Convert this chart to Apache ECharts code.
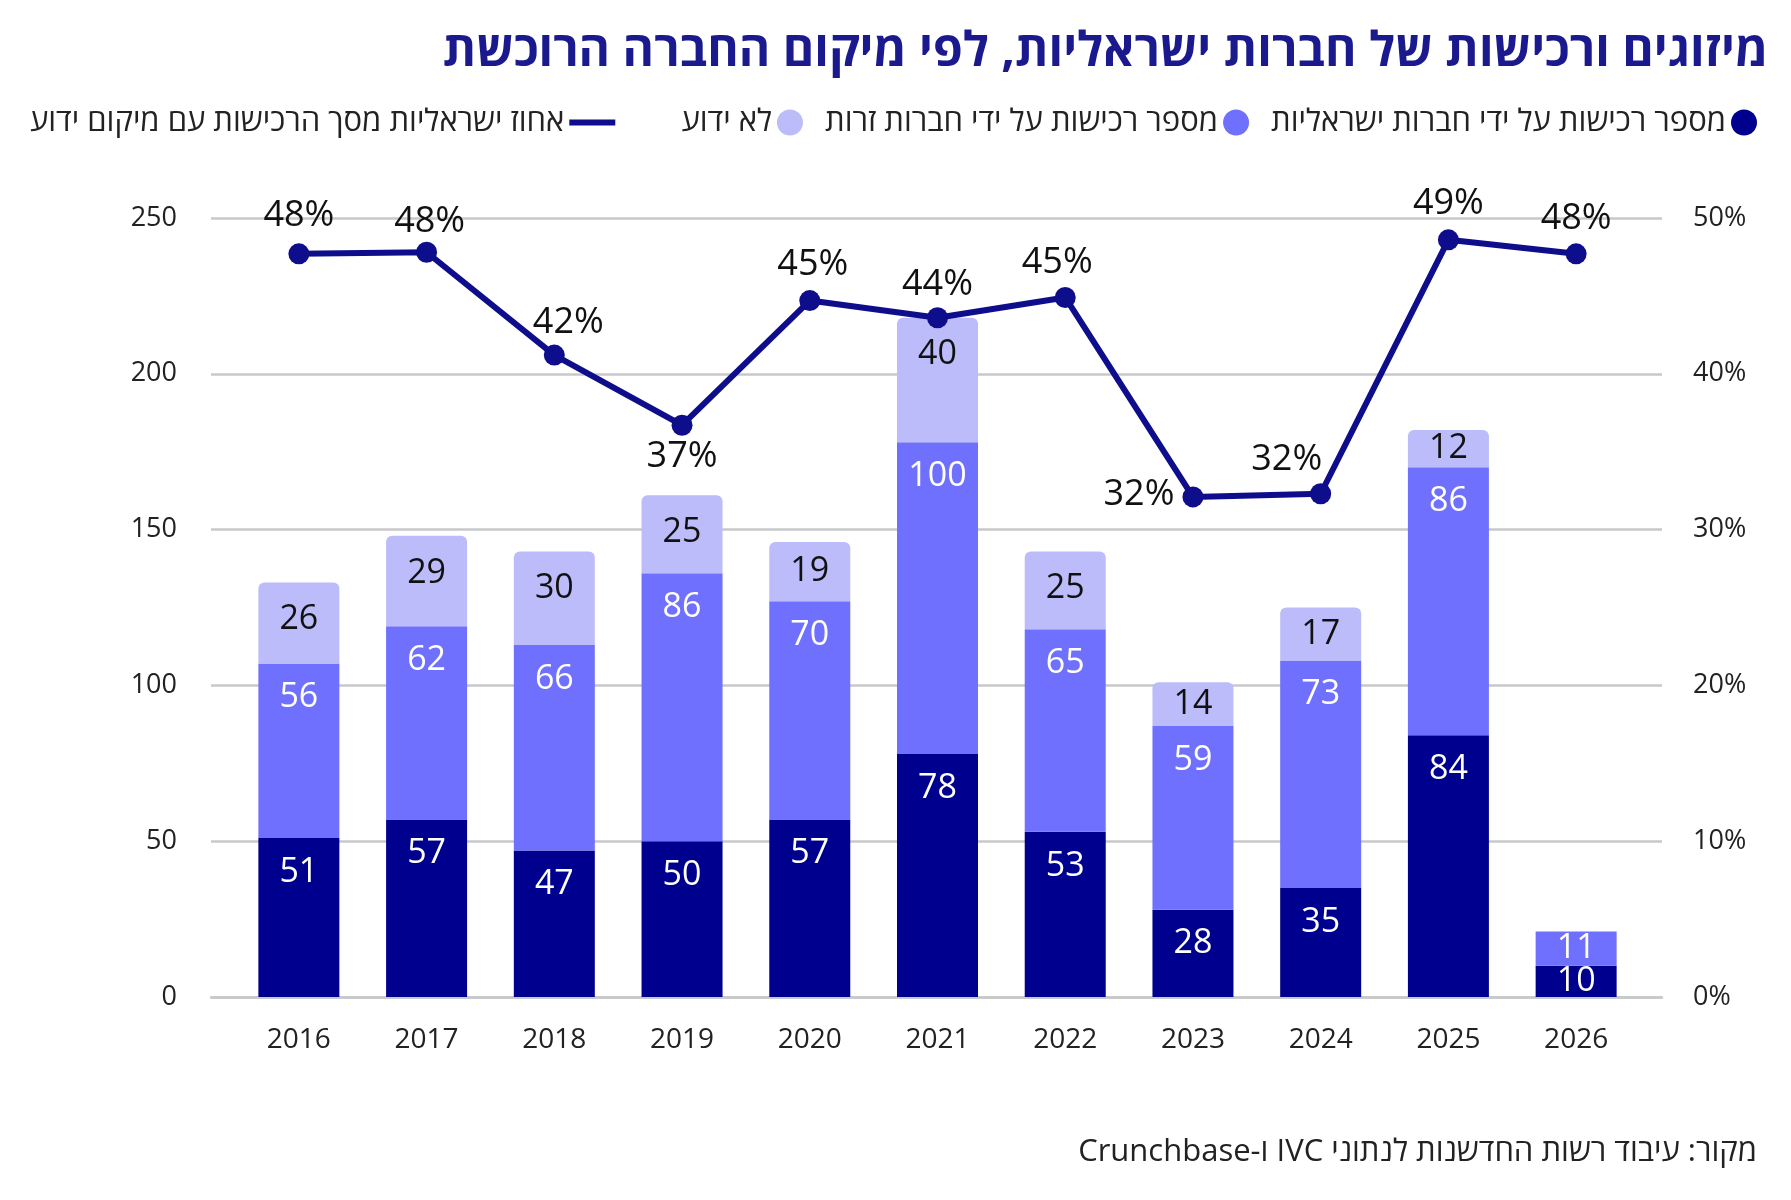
<!DOCTYPE html>
<html>
<head>
<meta charset="utf-8">
<script src="https://cdn.jsdelivr.net/npm/echarts@6/dist/echarts.min.js"></script>
<style>
  html, body { margin: 0; padding: 0; background: #fff; }
  #main { width: 1791px; height: 1200px; }
</style>
</head>
<body>
<div id="main" dir="rtl"></div>
<script>
const years = ['2016', '2017', '2018', '2019', '2020', '2021', '2022', '2023', '2024', '2025', '2026']
const israeliBuyers = [51, 57, 47, 50, 57, 78, 53, 28, 35, 84, 10]
const foreignBuyers = [56, 62, 66, 86, 70, 100, 65, 59, 73, 86, 11]
const unknownBuyers = [26, 29, 30, 25, 19, 40, 25, 14, 17, 12, null]
// share of israeli buyers (point position) and the printed label
const israeliShare = [47.7, 47.8, 41.2, 36.7, 44.7, 43.6, 44.9, 32.1, 32.3, 48.6, 47.7]
const shareLabels = ['48%', '48%', '42%', '37%', '45%', '44%', '45%', '32%', '32%', '49%', '48%']
const leftTicks = { min: 0, max: 250, interval: 50 }
const rightTicks = { min: 0, max: 50, interval: 10 }

const NAMES = {
  israeli: 'מספר רכישות על ידי חברות ישראליות',
  foreign: 'מספר רכישות על ידי חברות זרות',
  unknown: 'לא ידוע',
  share: 'אחוז ישראליות מסך הרכישות עם מיקום ידוע',
}

const COLORS = { israeli: '#00008f', foreign: '#7070ff', unknown: '#bcbcfa', line: '#0e0e8c' }
const FONT = "'Open Sans', 'Liberation Sans', 'DejaVu Sans', sans-serif"
const GRID_COLOR = '#c6c8ca'

// label offsets around each line point, px
const labelOffsets = [
  [0, -38], [3, -31], [14, -32], [0, 32], [3, -36], [0, -33],
  [-8, -35], [-54, -2], [-34, -34], [0, -36], [0, -35],
]

function barLabel(color, distance) {
  return {
    show: true, position: 'insideTop', distance, color,
    fontFamily: FONT, fontSize: 34, fontWeight: 500,
    formatter: p => (p.value == null ? '' : p.value),
  }
}

// short segments get their label centred instead of pinned to the top
function barData(values) {
  return values.map(v => (v != null && v < 20 ? { value: v, label: { position: 'inside' } } : v))
}

const chart = echarts.init(document.getElementById('main'))

chart.setOption({
  backgroundColor: '#fff',
  animation: false,
  title: {
    text: 'מיזוגים ורכישות של חברות ישראליות, לפי מיקום החברה הרוכשת',
    right: 18, top: 23,
    textStyle: { color: '#1a1a8e', fontSize: 48, fontWeight: 'bold', fontFamily: FONT },
  },
  legend: [
    {
      right: 29, top: 102, align: 'right',
      itemWidth: 26, itemHeight: 26, itemGap: 22,
      icon: 'circle',
      textStyle: { color: '#222', fontSize: 31, fontFamily: FONT },
      data: [NAMES.unknown, NAMES.foreign, NAMES.israeli],
    },
    {
      left: 25, top: 102, align: 'right',
      itemWidth: 46, itemHeight: 6,
      icon: 'path://M0,0 L46,0 L46,6 L0,6 Z',
      textStyle: { color: '#222', fontSize: 31, fontFamily: FONT },
      data: [NAMES.share],
    },
  ],
  grid: [
    { left: 211, right: 129, top: 218, bottom: 203 },
    { left: 235, right: 151, top: 218, bottom: 203 },
  ],
  xAxis: [
    {
      gridIndex: 0, type: 'value', min: 0, max: 1,
      axisLine: { show: true, lineStyle: { color: GRID_COLOR, width: 2.5 } },
      axisTick: { show: false }, axisLabel: { show: false }, splitLine: { show: false },
    },
    {
      gridIndex: 1, type: 'category', data: years,
      axisLine: { show: false }, axisTick: { show: false },
      axisLabel: { color: '#222', fontSize: 28, fontFamily: FONT, margin: 29 },
    },
  ],
  yAxis: [
    {
      gridIndex: 0, type: 'value', position: 'left', ...leftTicks,
      axisLine: { show: false }, axisTick: { show: false },
      axisLabel: { color: '#222', fontSize: 27, fontFamily: FONT, margin: 34 },
      splitLine: { lineStyle: { color: GRID_COLOR, width: 2.5 } },
    },
    {
      gridIndex: 0, type: 'value', position: 'right', ...rightTicks,
      axisLine: { show: false }, axisTick: { show: false },
      axisLabel: { color: '#222', fontSize: 27, fontFamily: FONT, margin: 31, formatter: '{value}%' },
      splitLine: { show: false },
    },
    { gridIndex: 1, type: 'value', ...leftTicks, show: false, splitLine: { show: false } },
    { gridIndex: 1, type: 'value', ...rightTicks, show: false, splitLine: { show: false } },
  ],
  series: [
    {
      name: NAMES.israeli, type: 'bar', stack: 'buyers',
      xAxisIndex: 1, yAxisIndex: 2, barWidth: 81,
      itemStyle: { color: COLORS.israeli },
      label: barLabel('#fff', 17),
      data: barData(israeliBuyers),
    },
    {
      name: NAMES.foreign, type: 'bar', stack: 'buyers',
      xAxisIndex: 1, yAxisIndex: 2, barWidth: 81,
      itemStyle: { color: COLORS.foreign },
      label: barLabel('#fff', 17),
      data: barData(foreignBuyers),
    },
    {
      name: NAMES.unknown, type: 'bar', stack: 'buyers',
      xAxisIndex: 1, yAxisIndex: 2, barWidth: 81,
      itemStyle: { color: COLORS.unknown, borderRadius: [6, 6, 0, 0] },
      label: barLabel('#111', 20),
      data: barData(unknownBuyers),
    },
    {
      name: NAMES.share, type: 'line',
      xAxisIndex: 1, yAxisIndex: 3, z: 5,
      symbol: 'circle', symbolSize: 21,
      lineStyle: { color: COLORS.line, width: 6 },
      itemStyle: { color: COLORS.line },
      data: israeliShare.map((v, i) => ({
        value: v,
        label: {
          show: true, position: 'inside', offset: labelOffsets[i],
          formatter: shareLabels[i],
          color: '#111', fontSize: 36, fontWeight: 500, fontFamily: FONT,
        },
      })),
    },
  ],
  graphic: [
    {
      type: 'text', right: 34, top: 1137,
      style: {
        text: 'מקור: עיבוד רשות החדשנות לנתוני IVC ו-Crunchbase',
        fill: '#222', fontSize: 31, fontFamily: FONT,
      },
    },
  ],
})
</script>
</body>
</html>
